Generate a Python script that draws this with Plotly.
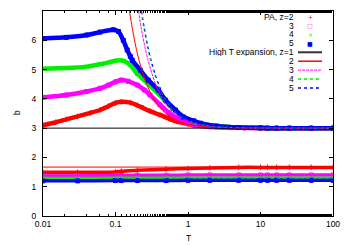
import plotly.graph_objects as go

# ---------------- data ----------------
# PA (Pade approximant) results, upper branch b(T)
pa_z2_T = [0.01, 0.015, 0.021, 0.03, 0.045, 0.061, 0.08, 0.1, 0.12, 0.16, 0.2, 0.24, 0.3, 0.41, 0.55, 0.71, 1.0, 1.2, 2.0, 3.8, 6.0, 10, 12.5, 16.7, 25, 50, 100]
pa_z2_b = [3.1, 3.2, 3.3, 3.4, 3.52, 3.62, 3.75, 3.86, 3.9, 3.87, 3.78, 3.69, 3.58, 3.45, 3.32, 3.22, 3.14, 3.1, 3.05, 3.02, 3.01, 3.005, 3.0, 3.0, 3.0, 3.0, 3.0]

pa_z3_T = [0.01, 0.021, 0.04, 0.061, 0.08, 0.1, 0.12, 0.15, 0.2, 0.25, 0.3, 0.41, 0.55, 0.71, 1.0, 1.2, 2.0, 4.0, 6.0, 10, 12.5, 16.7, 25, 50, 100]
pa_z3_b = [4.05, 4.13, 4.25, 4.36, 4.47, 4.58, 4.64, 4.6, 4.47, 4.3, 4.13, 3.8, 3.52, 3.34, 3.18, 3.12, 3.05, 3.02, 3.01, 3.005, 3.0, 3.0, 3.0, 3.0, 3.0]

pa_z4_T = [0.01, 0.021, 0.04, 0.061, 0.085, 0.105, 0.13, 0.16, 0.2, 0.275, 0.38, 0.5, 0.67, 0.86, 1.2, 1.5, 2.5, 5.0, 10, 12.5, 16.7, 25, 50, 100]
pa_z4_b = [5.03, 5.05, 5.1, 5.18, 5.26, 5.31, 5.3, 5.15, 4.85, 4.54, 4.2, 3.9, 3.6, 3.4, 3.22, 3.15, 3.07, 3.02, 3.008, 3.0, 3.0, 3.0, 3.0, 3.0]

pa_z5_T = [0.01, 0.021, 0.04, 0.061, 0.093, 0.11, 0.128, 0.145, 0.16, 0.17, 0.22, 0.283, 0.39, 0.487, 0.67, 0.86, 1.2, 1.48, 2.5, 5.0, 10, 12.5, 16.7, 25, 50, 100]
pa_z5_b = [6.06, 6.1, 6.18, 6.28, 6.36, 6.3, 6.0, 5.67, 5.45, 5.32, 4.98, 4.64, 4.3, 3.96, 3.62, 3.38, 3.25, 3.17, 3.07, 3.02, 3.008, 3.0, 3.0, 3.0, 3.0, 3.0]

# PA results, lower branch
pa_low_T = [0.01, 0.03, 0.1, 0.12, 0.2, 0.5, 1.0, 2.0, 5.0, 10, 12.5, 16.7, 25, 50, 100]
pa_z2_low = [1.49, 1.49, 1.5, 1.53, 1.56, 1.6, 1.62, 1.64, 1.66, 1.66, 1.66, 1.66, 1.66, 1.66, 1.66]
pa_z3_low = [1.37, 1.37, 1.38, 1.38, 1.39, 1.39, 1.4, 1.4, 1.4, 1.4, 1.4, 1.4, 1.4, 1.4, 1.4]
pa_z4_low = [1.28, 1.28, 1.29, 1.29, 1.29, 1.29, 1.29, 1.29, 1.29, 1.29, 1.29, 1.29, 1.29, 1.29, 1.29]
pa_z5_low = [1.2, 1.2, 1.21, 1.21, 1.21, 1.21, 1.22, 1.22, 1.22, 1.22, 1.22, 1.22, 1.22, 1.22, 1.22]

# High T expansion
ht_z1_T = [0.01, 100]
ht_z1_b = [3.0, 3.0]
ht_z2_T = [0.156, 0.17, 0.19, 0.21, 0.24, 0.28, 0.33, 0.4, 0.5, 0.65, 0.85, 1.2, 1.7, 2.5, 4.0, 10, 100]
ht_z2_b = [7.0, 6.43, 5.8, 5.34, 4.84, 4.4, 4.04, 3.73, 3.49, 3.31, 3.19, 3.1, 3.054, 3.027, 3.012, 3.002, 3.0]
ht_z3_T = [0.208, 0.226, 0.253, 0.28, 0.32, 0.37, 0.44, 0.53, 0.665, 0.865, 1.13, 1.6, 2.26, 3.3, 5.3, 13.3, 100]
ht_z3_b = [7.0, 6.43, 5.8, 5.34, 4.84, 4.4, 4.04, 3.73, 3.49, 3.31, 3.19, 3.1, 3.054, 3.027, 3.012, 3.002, 3.0]
ht_z4_T = [0.224, 0.245, 0.274, 0.302, 0.346, 0.403, 0.475, 0.576, 0.72, 0.936, 1.22, 1.73, 2.45, 3.6, 5.76, 14.4, 100]
ht_z4_b = [7.0, 6.43, 5.8, 5.34, 4.84, 4.4, 4.04, 3.73, 3.49, 3.31, 3.19, 3.1, 3.054, 3.027, 3.012, 3.002, 3.0]
ht_z5_T = [0.229, 0.25, 0.279, 0.309, 0.353, 0.41, 0.485, 0.588, 0.735, 0.955, 1.25, 1.76, 2.5, 3.7, 5.9, 14.7, 100]
ht_z5_b = [7.0, 6.43, 5.8, 5.34, 4.84, 4.4, 4.04, 3.73, 3.49, 3.31, 3.19, 3.1, 3.054, 3.027, 3.012, 3.002, 3.0]
ht_low_T = [0.01, 100]
ht_z2_low = [1.67, 1.67]
ht_z3_low = [1.41, 1.41]
ht_z4_low = [1.3, 1.3]
ht_z5_low = [1.22, 1.22]

x_tickvals = [0.01, 0.1, 1, 10, 100]
x_ticktext = ["0.01", "0.1", "1", "10", "100"]
y_tickvals = [0, 1, 2, 3, 4, 5, 6, 7]

legend_labels = ["PA, z=2", "3", "4", "5", "High T expansion, z=1", "2", "3", "4", "5"]

# ---------------- styling ----------------
RED, MAG, GRN, BLU = "#ff0000", "#ff00ff", "#00ee00", "#0000ff"
FONT = "Liberation Sans, Arial, sans-serif"

# page has an 8px body margin; figure coords = page coords - 8
OFF = 8
FW, FH = 350 - OFF, 245 - OFF
L, R, T0, B = 43 - OFF, 333 - OFF, 11 - OFF, 216 - OFF
W, H = R - L, B - T0

def px(x):  # page pixel -> paper fraction
    return (x - OFF - L) / W
def py(y):
    return (B - (y - OFF)) / H

fig = go.Figure()

pa_sets = [
    (pa_z2_T, pa_z2_b, pa_z2_low, RED, "cross-thin-open", 4),
    (pa_z3_T, pa_z3_b, pa_z3_low, MAG, "square-open", 4),
    (pa_z4_T, pa_z4_b, pa_z4_low, GRN, "x-thin-open", 4),
    (pa_z5_T, pa_z5_b, pa_z5_low, BLU, "square", 4),
]
for T, b, low, col, sym, ms in pa_sets:
    fig.add_trace(go.Scatter(x=T, y=b, mode="lines+markers", line=dict(color=col, width=4.5, shape="spline", smoothing=0.6),
                             marker=dict(symbol=sym, size=ms, color=col, line=dict(color=col, width=1)),
                             showlegend=False, hoverinfo="skip"))
    fig.add_trace(go.Scatter(x=pa_low_T, y=low, mode="lines+markers", line=dict(color=col, width=3.5, shape="spline", smoothing=0.6),
                             marker=dict(symbol=sym, size=ms, color=col, line=dict(color=col, width=1)),
                             showlegend=False, hoverinfo="skip"))

ht_sets = [
    (ht_z1_T, ht_z1_b, None, "#000000", "solid"),
    (ht_z2_T, ht_z2_b, ht_z2_low, RED, "solid"),
    (ht_z3_T, ht_z3_b, ht_z3_low, MAG, "3px,1px"),
    (ht_z4_T, ht_z4_b, ht_z4_low, GRN, "dot"),
    (ht_z5_T, ht_z5_b, ht_z5_low, BLU, "dot"),
]
for T, b, low, col, dash in ht_sets:
    fig.add_trace(go.Scatter(x=T, y=b, mode="lines", line=dict(color=col, width=1, dash=dash, shape="spline", smoothing=0.8),
                             showlegend=False, hoverinfo="skip"))
    if low is not None:
        fig.add_trace(go.Scatter(x=ht_low_T, y=low, mode="lines", line=dict(color=col, width=1, dash=dash),
                                 showlegend=False, hoverinfo="skip"))

# ---------------- manual gnuplot-style key ----------------
key_marks = [("+", RED), ("□", MAG), ("×", GRN), ("■", BLU)]
key_lines = [("#333333", "solid", 2), (RED, "solid", 1.5), (MAG, "3px,1px", 1), (GRN, "dot", 1.5), (BLU, "dot", 1.5)]
for i, lab in enumerate(legend_labels):
    yy = 16.7 + 8.9 * i
    fig.add_annotation(x=px(295), y=py(yy), xref="paper", yref="paper", text=lab, showarrow=False,
                       xanchor="right", yanchor="middle", height=8, borderpad=0,
                       font=dict(size=8.5, color="#000000", family=FONT))
    if i < 4:
        sym, col = key_marks[i]
        fig.add_annotation(x=px(310), y=py(yy), xref="paper", yref="paper", text=sym, showarrow=False,
                           xanchor="center", yanchor="middle", height=7, borderpad=0,
                           font=dict(size=6, color=col, family="DejaVu Sans"))
    else:
        col, dash, w = key_lines[i - 4]
        fig.add_shape(type="line", xref="paper", yref="paper", x0=px(298), x1=px(322), y0=py(yy), y1=py(yy),
                      line=dict(color=col, width=w, dash=dash))

# axis titles
fig.add_annotation(x=0.5, y=py(238), xref="paper", yref="paper", text="T", showarrow=False,
                   font=dict(size=8.5, family=FONT, color="#000"), xanchor="center", yanchor="middle")
fig.add_annotation(x=px(17), y=py(113), xref="paper", yref="paper", text="b", showarrow=False, textangle=-90,
                   font=dict(size=8.5, family=FONT, color="#000"), xanchor="center", yanchor="middle")

axis_common = dict(showgrid=False, zeroline=False, showline=True, linecolor="#000", linewidth=1,
                   mirror="ticks", ticks="inside", tickcolor="#000", ticklen=4,
                   tickfont=dict(size=8.5, family=FONT, color="#000"))

fig.update_xaxes(type="log", range=[-2, 2], tickvals=x_tickvals, ticktext=x_ticktext,
                 minor=dict(ticks="inside", ticklen=2, tickcolor="#000", showgrid=False), **axis_common)
fig.update_yaxes(range=[0, 7], tickvals=y_tickvals, ticklabelstandoff=4, **axis_common)

fig.update_layout(width=FW, height=FH, margin=dict(l=L, r=FW - R, t=T0, b=FH - B),
                  paper_bgcolor="white", plot_bgcolor="white", showlegend=False,
                  font=dict(family=FONT, size=8.5))

fig.write_html("out.html")
